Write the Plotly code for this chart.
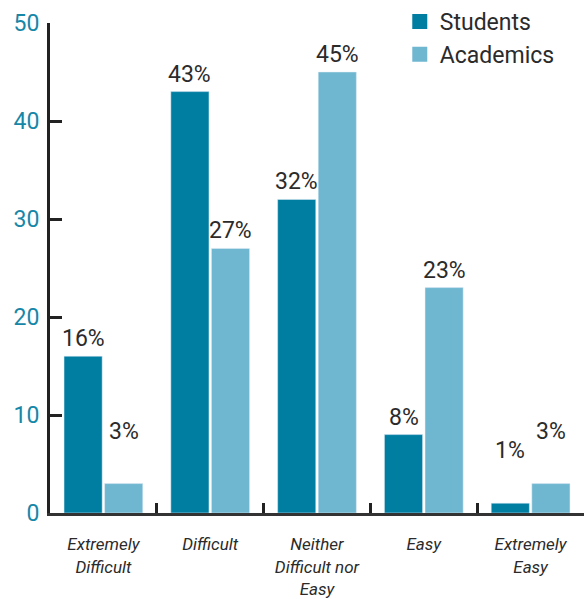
import plotly.graph_objects as go

categories = ["Extremely<br>Difficult", "Difficult", "Neither<br>Difficult nor<br>Easy", "Easy", "Extremely<br>Easy"]
students = [16, 43, 32, 8, 1]
academics = [3, 27, 45, 23, 3]
y_ticks = [0, 10, 20, 30, 40, 50]

STUDENT_COLOR = "#007ea2"
ACADEMIC_COLOR = "#6fb7d0"
TICK_COLOR = "#1787a8"
TEXT_COLOR = "#2b2b2b"
FONT = "Roboto, Liberation Sans, Arial, sans-serif"

BARGAP = 0.24
series = [("Students", students, STUDENT_COLOR), ("Academics", academics, ACADEMIC_COLOR)]

fig = go.Figure()
for name, vals, color in series:
    fig.add_trace(go.Bar(x=categories, y=vals, name=name, marker_color=color,
                         showlegend=False, hoverinfo="x+y"))
    # legend entry with a larger square swatch
    fig.add_trace(go.Scatter(x=[None], y=[None], mode="markers", name=name,
                             marker=dict(symbol="square", size=15, color=color)))

# value labels above each bar; short bars get their label lifted clear of the axis
slot = (1 - BARGAP) / len(series)
annotations = []
for s_idx, (name, vals, color) in enumerate(series):
    offset = (s_idx - (len(series) - 1) / 2) * slot
    for c_idx, v in enumerate(vals):
        annotations.append(dict(
            x=c_idx + offset, y=v, xref="x", yref="y",
            text=f"{v}%", showarrow=False, yanchor="bottom", xanchor="center",
            yshift=2 + (35 if v < 5 else 0),
            font=dict(family=FONT, size=23, color=TEXT_COLOR),
        ))

fig.update_layout(
    width=584, height=599,
    margin=dict(l=50, r=0, t=22, b=86),
    plot_bgcolor="white", paper_bgcolor="white",
    barmode="group", bargap=BARGAP, bargroupgap=0.06,
    font=dict(family=FONT, color=TEXT_COLOR),
    legend=dict(
        x=0.655, y=1.048, xanchor="left", yanchor="top",
        font=dict(family=FONT, size=23, color=TEXT_COLOR),
        bgcolor="rgba(0,0,0,0)", itemwidth=30, tracegroupgap=0,
    ),
    annotations=annotations,
)
fig.update_yaxes(
    range=[0, 50], tickvals=y_ticks, showgrid=False, zeroline=False,
    showline=True, linecolor="#222222", linewidth=3,
    ticks="inside", ticklen=12, tickwidth=3, tickcolor="#222222",
    tickfont=dict(family=FONT, size=23, color=TICK_COLOR),
    ticklabelstandoff=3,
)
fig.update_xaxes(
    showgrid=False, showline=True, linecolor="#333333", linewidth=3,
    ticks="inside", tickson="boundaries", ticklen=10, tickwidth=3, tickcolor="#222222",
    tickfont=dict(family=FONT, size=17, color=TEXT_COLOR, style="italic"),
    ticklabelstandoff=14,
)

fig.write_html("out.html")
